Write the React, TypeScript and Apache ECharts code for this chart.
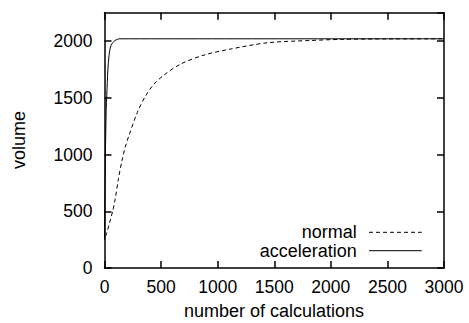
import React, { useEffect, useRef } from "react";
import * as echarts from "echarts";

const xTicks = [0, 500, 1000, 1500, 2000, 2500, 3000];
const yTicks = [0, 500, 1000, 1500, 2000];

const normalX = [10, 19, 45, 72, 93, 124, 155, 186, 217, 290, 364, 438, 526, 674, 880, 1116, 1440, 1817, 2100, 2500, 3000];
const normalY = [280, 306, 400, 500, 600, 790, 950, 1075, 1170, 1371, 1518, 1621, 1701, 1798, 1877, 1930, 1985, 2005, 2015, 2019, 2020];

const accelX = [0, 8, 15, 20, 30, 40, 57, 93, 137, 3000];
const accelY = [250, 1000, 1400, 1520, 1750, 1870, 1960, 2005, 2020, 2020];

const seriesNames = ["normal", "acceleration"];
const xTitle = "number of calculations";
const yTitle = "volume";

const FONT = "Liberation Sans, Arial, Helvetica, sans-serif";
const FS = 17.5;
const TFS = 18;

export default function App() {
  const ref = useRef<HTMLDivElement>(null);
  useEffect(() => {
    if (!ref.current) return;
    const chart = echarts.init(ref.current, undefined, { renderer: "svg" });
    const grid = { left: 104.5, top: 12.7, right: 25, bottom: 55 };
    const axisLine = { show: true, onZero: false, lineStyle: { color: "#000", width: 1.5 } };
    const tick = { show: true, inside: true, length: 7, lineStyle: { color: "#000", width: 1.5 } };
    const pair = (xs: number[], ys: number[]) => xs.map((x, i) => [x, ys[i]]);
    chart.setOption({
      animation: false,
      backgroundColor: "#fff",
      grid,
      xAxis: [
        {
          type: "value", min: 0, max: 3000, interval: 500, position: "bottom",
          axisLine, axisTick: tick, splitLine: { show: false },
          axisLabel: {
            color: "#000", fontSize: FS, fontFamily: FONT, margin: 10,
            formatter: (v: number) => (xTicks.indexOf(v) >= 0 ? String(v) : ""),
          },
        },
        {
          type: "value", min: 0, max: 3000, interval: 500, position: "top",
          axisLine, axisTick: tick, splitLine: { show: false }, axisLabel: { show: false },
        },
      ],
      yAxis: [
        {
          type: "value", min: 0, max: 2250, interval: 500, position: "left",
          axisLine, axisTick: tick, splitLine: { show: false },
          axisLabel: {
            color: "#000", fontSize: FS, fontFamily: FONT, margin: 12,
            showMaxLabel: false,
            formatter: (v: number) => (yTicks.indexOf(v) >= 0 ? String(v) : ""),
          },
        },
        {
          type: "value", min: 0, max: 2250, interval: 500, position: "right",
          axisLine, axisTick: tick, splitLine: { show: false }, axisLabel: { show: false },
        },
      ],
      series: [
        {
          name: seriesNames[0], type: "line", xAxisIndex: 0, yAxisIndex: 0,
          data: pair(normalX, normalY), showSymbol: false, symbol: "none", smooth: 0.3,
          lineStyle: { color: "#000", width: 1, type: [4, 3] },
        },
        {
          name: seriesNames[1], type: "line", xAxisIndex: 0, yAxisIndex: 0,
          data: pair(accelX, accelY), showSymbol: false, symbol: "none", smooth: 0.3,
          lineStyle: { color: "#000", width: 1 },
        },
      ],
      graphic: [
        {
          type: "text", x: 274, y: 311,
          style: { text: xTitle, font: `${TFS}px ${FONT}`, fill: "#000", textAlign: "center", textVerticalAlign: "middle" },
        },
        {
          type: "text", x: 19, y: 140, rotation: Math.PI / 2,
          style: { text: yTitle, font: `${TFS}px ${FONT}`, fill: "#000", textAlign: "center", textVerticalAlign: "middle" },
        },
        {
          type: "text", x: 356.7, y: 232.3,
          style: { text: seriesNames[0], font: `${TFS}px ${FONT}`, fill: "#000", textAlign: "right", textVerticalAlign: "middle" },
        },
        {
          type: "text", x: 356.7, y: 250.7,
          style: { text: seriesNames[1], font: `${TFS}px ${FONT}`, fill: "#000", textAlign: "right", textVerticalAlign: "middle" },
        },
        {
          type: "line", shape: { x1: 369, y1: 232.3, x2: 421.7, y2: 232.3 },
          style: { stroke: "#000", lineWidth: 1, lineDash: [4, 3] },
        },
        {
          type: "line", shape: { x1: 369, y1: 250.7, x2: 421.7, y2: 250.7 },
          style: { stroke: "#000", lineWidth: 1 },
        },
      ],
    });
    return () => chart.dispose();
  }, []);
  return <div ref={ref} style={{ position: "fixed", left: 0, top: 0, width: 469, height: 323 }} />;
}
